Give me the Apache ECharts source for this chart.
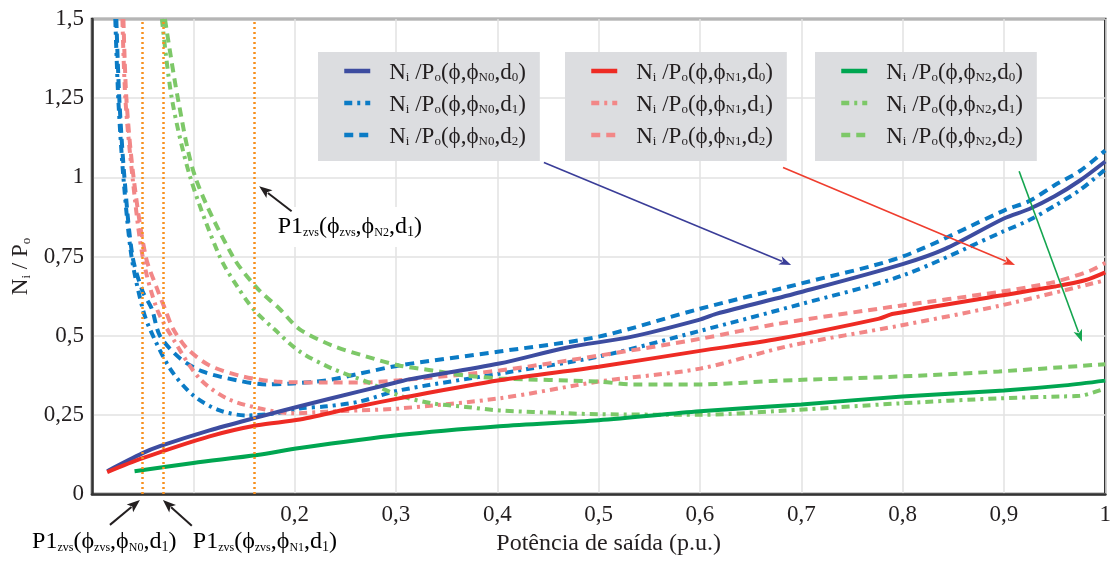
<!DOCTYPE html>
<html>
<head>
<meta charset="utf-8">
<script src="https://cdn.jsdelivr.net/npm/echarts@6/dist/echarts.min.js"></script>
<style>
  html, body { margin: 0; padding: 0; background: #fff; }
  #chart { width: 1114px; height: 561px; }
</style>
</head>
<body>
<div id="chart"></div>
<script>
// Ni/Po versus output power, for three phase shifts (N0, N1, N2) and three duty settings (d0, d1, d2).
// Each curve is a list of [power (p.u.), Ni/Po] pairs.
const n0d0 = [[0.015,0.072],[0.05,0.129],[0.067,0.151],[0.116,0.201],[0.163,0.242],[0.205,0.277],[0.264,0.324],[0.3,0.352],[0.313,0.362],[0.402,0.412],[0.468,0.462],[0.533,0.497],[0.599,0.55],[0.616,0.569],[0.7,0.638],[0.8,0.726],[0.842,0.774],[0.9,0.87],[0.925,0.9],[0.95,0.94],[0.975,0.99],[1.0,1.05]];
const n0d1 = [[0.023,1.5],[0.026,1.245],[0.031,1.0],[0.039,0.75],[0.05,0.585],[0.057,0.522],[0.077,0.396],[0.1,0.311],[0.126,0.264],[0.153,0.248],[0.182,0.255],[0.205,0.27],[0.232,0.277],[0.264,0.292],[0.303,0.327],[0.402,0.38],[0.5,0.434],[0.6,0.515],[0.7,0.6],[0.8,0.69],[0.9,0.83],[0.925,0.865],[0.95,0.91],[0.975,0.96],[1.0,1.025]];
const n0d2 = [[0.024,1.5],[0.027,1.245],[0.032,1.0],[0.04,0.75],[0.05,0.64],[0.059,0.585],[0.067,0.5],[0.087,0.428],[0.109,0.387],[0.143,0.359],[0.172,0.346],[0.198,0.349],[0.232,0.359],[0.264,0.38],[0.303,0.406],[0.402,0.45],[0.5,0.497],[0.6,0.585],[0.7,0.665],[0.8,0.75],[0.9,0.895],[0.925,0.925],[0.95,0.975],[0.975,1.02],[1.0,1.085]];

const n1d0 = [[0.015,0.069],[0.05,0.113],[0.116,0.182],[0.163,0.217],[0.205,0.235],[0.264,0.277],[0.303,0.302],[0.402,0.359],[0.5,0.402],[0.6,0.452],[0.678,0.49],[0.776,0.553],[0.791,0.569],[0.895,0.626],[0.95,0.655],[0.98,0.675],[1.0,0.70]];
const n1d1 = [[0.030,1.5],[0.033,1.245],[0.040,1.0],[0.050,0.75],[0.064,0.585],[0.08,0.49],[0.106,0.365],[0.133,0.302],[0.166,0.27],[0.198,0.255],[0.232,0.26],[0.264,0.264],[0.303,0.27],[0.402,0.302],[0.5,0.355],[0.6,0.396],[0.69,0.469],[0.796,0.531],[0.895,0.594],[1.0,0.675]];
const n1d2 = [[0.031,1.5],[0.034,1.245],[0.041,1.0],[0.053,0.75],[0.064,0.65],[0.072,0.585],[0.08,0.522],[0.094,0.459],[0.116,0.406],[0.149,0.371],[0.182,0.355],[0.232,0.352],[0.264,0.352],[0.303,0.359],[0.402,0.39],[0.5,0.437],[0.6,0.49],[0.678,0.538],[0.796,0.594],[0.895,0.638],[0.95,0.67],[0.985,0.705],[1.0,0.73]];

const n2d0 = [[0.042,0.072],[0.1,0.098],[0.163,0.123],[0.205,0.145],[0.303,0.186],[0.402,0.214],[0.5,0.233],[0.6,0.261],[0.7,0.283],[0.8,0.308],[0.9,0.327],[0.96,0.343],[1.0,0.358]];
const n2d1 = [[0.069,1.5],[0.079,1.245],[0.097,1.0],[0.126,0.75],[0.143,0.657],[0.159,0.585],[0.18,0.52],[0.205,0.45],[0.237,0.396],[0.271,0.355],[0.303,0.311],[0.336,0.286],[0.369,0.275],[0.402,0.264],[0.468,0.255],[0.5,0.252],[0.6,0.25],[0.678,0.262],[0.796,0.286],[0.895,0.302],[0.957,0.308],[0.975,0.31],[1.0,0.333]];
const n2d2 = [[0.072,1.5],[0.085,1.245],[0.102,1.0],[0.139,0.75],[0.163,0.65],[0.185,0.585],[0.205,0.52],[0.237,0.469],[0.271,0.434],[0.303,0.406],[0.336,0.39],[0.369,0.374],[0.402,0.365],[0.5,0.355],[0.533,0.346],[0.6,0.346],[0.678,0.358],[0.796,0.371],[0.895,0.387],[1.0,0.41]];

// ZVS boundary powers P1zvs for N0, N1 and N2 (all with d1)
const zvsPower = [0.0505, 0.066, 0.161];

// Axis ticks
const yTicks = [0, 0.25, 0.5, 0.75, 1, 1.25, 1.5];
const xTicks = [0, 0.1, 0.2, 0.3, 0.4, 0.5, 0.6, 0.7, 0.8, 0.9, 1];

const SERIF = '"Liberation Serif", "DejaVu Serif", serif';
const DASH = [9, 6];
const DASHDOT = [8, 5, 3, 5];
const INK = '#231f20';

const C = {
  blue: '#3d4ca0', blueLight: '#0b7bc5',
  red: '#ee2b24', redLight: '#f28787',
  green: '#00a651', greenLight: '#7dc868',
  zvs: '#f7901e'
};

const curves = [
  { name: 'N0d0', phi: 'N0', d: '0', data: n0d0, color: C.blue, type: 'solid' },
  { name: 'N0d1', phi: 'N0', d: '1', data: n0d1, color: C.blueLight, type: DASHDOT },
  { name: 'N0d2', phi: 'N0', d: '2', data: n0d2, color: C.blueLight, type: DASH },
  { name: 'N1d0', phi: 'N1', d: '0', data: n1d0, color: C.red, type: 'solid' },
  { name: 'N1d1', phi: 'N1', d: '1', data: n1d1, color: C.redLight, type: DASHDOT },
  { name: 'N1d2', phi: 'N1', d: '2', data: n1d2, color: C.redLight, type: DASH },
  { name: 'N2d0', phi: 'N2', d: '0', data: n2d0, color: C.green, type: 'solid' },
  { name: 'N2d1', phi: 'N2', d: '1', data: n2d1, color: C.greenLight, type: DASHDOT },
  { name: 'N2d2', phi: 'N2', d: '2', data: n2d2, color: C.greenLight, type: DASH }
];

// rich-text styles: main text and lowered subscripts
function richSet(main, sub, lh) {
  return {
    m: { fontFamily: SERIF, fontSize: main, color: INK, lineHeight: lh, verticalAlign: 'bottom' },
    s: { fontFamily: SERIF, fontSize: sub, color: INK, lineHeight: 8, verticalAlign: 'bottom' },
    t: { fontFamily: SERIF, fontSize: sub - 2, color: INK, lineHeight: 8, verticalAlign: 'bottom' }
  };
}
const legendRich = richSet(23, 13, 26);
const nameRich = richSet(23, 13, 26);
const noteRich = richSet(24, 14, 26);

function curveLabel(c) {
  return '{m|N}{s|i}{m| /P}{s|o}{m|(ϕ,ϕ}{s|' + c.phi + '}{m|,d}{s|' + c.d + '}{m|)}';
}
const labelOf = {};
curves.forEach(c => { labelOf[c.name] = curveLabel(c); });

const comma = v => String(+v.toFixed(2)).replace('.', ',');

function legendBox(left, names) {
  return {
    left: left, top: 52,
    orient: 'vertical',
    data: names,
    backgroundColor: '#dcdde0',
    padding: [9, 14, 13, 24],
    itemGap: 9,
    itemWidth: 26,
    itemHeight: 14,
    selectedMode: false,
    itemStyle: { opacity: 0 },
    lineStyle: { width: 4.5 },
    formatter: name => labelOf[name],
    textStyle: { fontFamily: SERIF, fontSize: 23, color: INK, padding: [0, 0, 0, 14], rich: legendRich }
  };
}

const series = curves.map((c, i) => ({
  name: c.name,
  type: 'line',
  data: c.data,
  showSymbol: false,
  symbol: 'none',
  smooth: 0.3,
  clip: true,
  color: c.color,
  lineStyle: { color: c.color, width: 4, type: c.type, cap: 'butt' },
  z: c.type === 'solid' ? 4 : 3,
  markLine: i === 0 ? {
    silent: true,
    symbol: 'none',
    label: { show: false },
    lineStyle: { color: C.zvs, type: [2, 3], width: 2.5 },
    data: zvsPower.map(x => ({ xAxis: x }))
  } : undefined
}));

const chart = echarts.init(document.getElementById('chart'), null, { renderer: 'canvas' });
chart.setOption({
  animation: false,
  backgroundColor: '#fff',
  grid: { left: 92, right: 7, top: 19, bottom: 65, show: true, borderColor: '#333', borderWidth: 2.5, backgroundColor: 'transparent' },
  legend: [
    legendBox(318, ['N0d0', 'N0d1', 'N0d2']),
    legendBox(565, ['N1d0', 'N1d1', 'N1d2']),
    legendBox(815, ['N2d0', 'N2d1', 'N2d2'])
  ],
  xAxis: {
    type: 'value', min: xTicks[0], max: xTicks[xTicks.length - 1], interval: 0.1,
    name: 'Potência de saída (p.u.)', nameLocation: 'middle', nameGap: 38,
    nameTextStyle: { fontFamily: SERIF, fontSize: 24, color: INK, padding: [0, 0, 0, 20] },
    axisLine: { show: true, lineStyle: { color: '#333', width: 2.5 } },
    axisTick: { show: false },
    axisLabel: {
      margin: 9, fontFamily: SERIF, fontSize: 23, color: INK,
      formatter: v => (v < 0.15 ? '' : comma(v))
    },
    splitLine: { show: true, lineStyle: { color: '#e2e2e2', width: 1.5 } }
  },
  yAxis: {
    type: 'value', min: yTicks[0], max: yTicks[yTicks.length - 1], interval: 0.25,
    name: '{m|N}{s|i}{m| / P}{s|o}', nameLocation: 'middle', nameGap: 52, nameRotate: 90,
    nameTextStyle: { fontFamily: SERIF, fontSize: 23, color: INK, rich: nameRich, padding: [0, 20, 0, 0] },
    axisLine: { show: true, lineStyle: { color: '#333', width: 2.5 } },
    axisTick: { show: false },
    axisLabel: { margin: 8, fontFamily: SERIF, fontSize: 23, color: INK, formatter: comma },
    splitLine: { show: true, lineStyle: { color: '#e2e2e2', width: 1.5 } }
  },
  series: series
});

// Annotations, placed in data units and converted through the chart's own axes
const arrows = [
  { from: [0.446, 1.047], to: [0.690, 0.723], color: '#3a3d98', width: 1.6, head: [12, 9] },
  { from: [0.682, 1.031], to: [0.911, 0.723], color: '#ef3d2e', width: 1.6, head: [12, 9] },
  { from: [0.915, 1.019], to: [0.977, 0.481], color: '#14a54f', width: 1.6, head: [12, 9] },
  { from: [0.197, 0.893], to: [0.165, 0.972], color: INK, width: 2, head: [13, 10] },
  { from: [0.0177, -0.0975], to: [0.0473, -0.019], color: INK, width: 2, head: [13, 10] },
  { from: [0.0985, -0.1006], to: [0.070, -0.019], color: INK, width: 2, head: [13, 10] }
];
const notes = [
  { at: [0.1773, 0.843], phi: 'N2', box: true },
  { at: [-0.0591, -0.148], phi: 'N0', box: false },
  { at: [0.0995, -0.148], phi: 'N1', box: false }
];

function px(p) { return chart.convertToPixel({ gridIndex: 0 }, p); }

const graphics = [];
arrows.forEach(a => {
  const p0 = px(a.from), p1 = px(a.to);
  const dx = p1[0] - p0[0], dy = p1[1] - p0[1];
  const len = Math.hypot(dx, dy), ux = dx / len, uy = dy / len;
  const L = a.head[0], W = a.head[1] / 2;
  const bx = p1[0] - ux * L, by = p1[1] - uy * L;
  graphics.push({
    type: 'line', z: 50, silent: true,
    shape: { x1: p0[0], y1: p0[1], x2: bx + ux * 2, y2: by + uy * 2 },
    style: { stroke: a.color, lineWidth: a.width }
  });
  graphics.push({
    type: 'polygon', z: 50, silent: true,
    shape: { points: [[p1[0], p1[1]], [bx - uy * W, by + ux * W], [bx + ux * 3, by + uy * 3], [bx + uy * W, by - ux * W]] },
    style: { fill: a.color }
  });
});
notes.forEach(n => {
  const p = px(n.at);
  graphics.push({
    type: 'text', z: 49, silent: true,
    x: p[0], y: p[1],
    style: {
      text: '{m|P1}{t|zvs}{m|(ϕ}{t|zvs}{m|,ϕ}{t|' + n.phi + '}{m|,d}{s|1}{m|)}',
      rich: noteRich,
      align: 'left', verticalAlign: 'middle',
      backgroundColor: n.box ? '#ffffff' : null,
      padding: n.box ? [6, 6, 8, 6] : 0
    }
  });
});
chart.setOption({ graphic: graphics });
</script>
</body>
</html>
